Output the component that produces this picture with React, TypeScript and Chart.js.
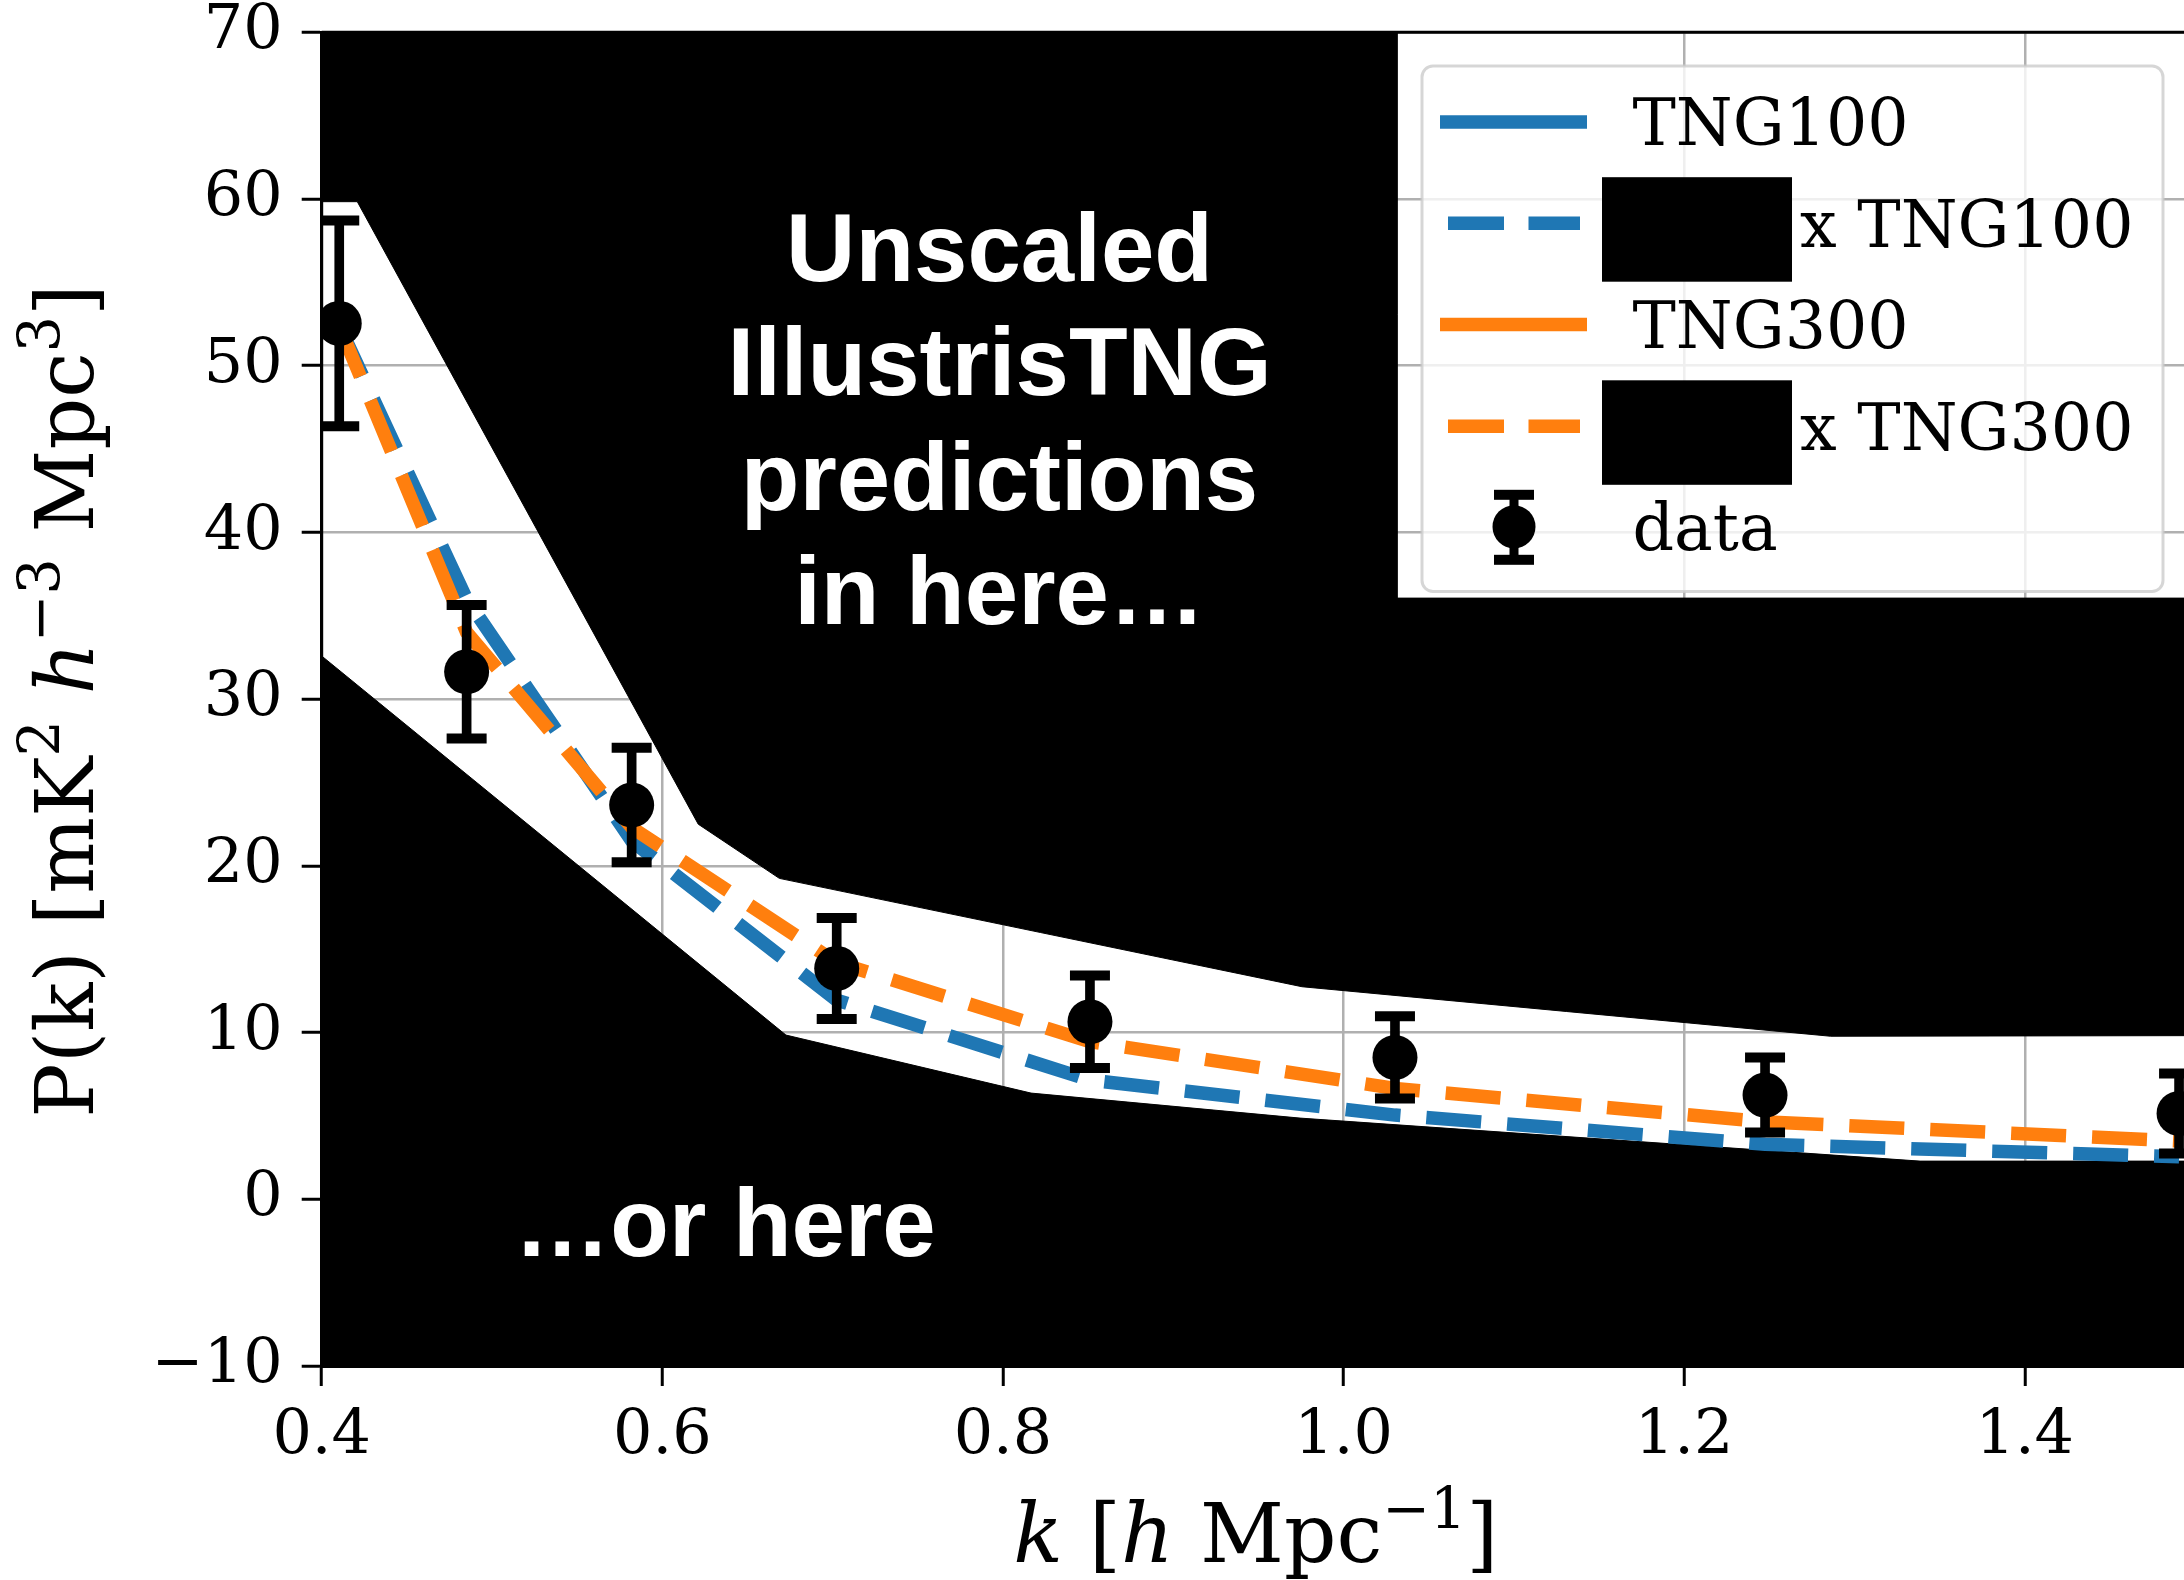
import React, { useEffect, useRef } from 'react';
import { Chart, registerables } from 'chart.js';

Chart.register(...registerables);

// ---------------- data ----------------
const kData = [0.4103, 0.4851, 0.582, 0.7024, 0.8511, 1.0302, 1.2475, 1.4906];
const pData = [52.54, 31.64, 23.65, 13.85, 10.65, 8.51, 6.25, 5.15];
const pErr = [6.17, 4.0, 3.43, 3.03, 2.77, 2.47, 2.25, 2.4];

const kModel = [0.4103, 0.4851, 0.582, 0.7024, 0.8511, 1.0302, 1.2475, 1.4906];
const scaledTNG100 = [52.4, 36.0, 21.5, 11.95, 7.15, 5.05, 3.3, 2.55];
const scaledTNG300 = [52.4, 34.0, 22.3, 14.2, 9.45, 6.65, 4.65, 3.5];

// black masks (polygons in data coordinates)
const upperMaskK = [0.4, 1.0314, 1.0314, 1.52, 1.52, 1.286, 0.9756, 0.6687, 0.6211, 0.4209, 0.4];
const upperMaskP = [72, 72, 36.06, 36.06, 9.82, 9.78, 12.75, 19.25, 22.5, 59.84, 59.84];
const lowerMaskK = [0.4, 0.6726, 0.8165, 0.9745, 1.3385, 1.52];
const lowerMaskP = [32.59, 9.85, 6.37, 4.87, 2.29, 2.29];

const xTicks = [0.4, 0.6, 0.8, 1.0, 1.2, 1.4];
const yTicks = [-10, 0, 10, 20, 30, 40, 50, 60, 70];
const xRange = [0.4, 1.4935];
const yRange = [-10, 70];

const legendLabels = ['TNG100', 'x TNG100', 'TNG300', 'x TNG300', 'data'];
const topNote = ['Unscaled', 'IllustrisTNG', 'predictions', 'in here…'];
const topNoteAt = [0.798, 55.1];
const bottomNote = '…or here';
const bottomNoteAt = [0.6368, -3.41];

// ---------------- styles ----------------
const BLUE = '#1f77b4';
const ORANGE = '#ff7f0e';
const SERIF = "'DejaVu Serif', serif";
const SANS_BOLD = "bold 96px 'Liberation Sans', Arial, sans-serif";
const LINE_W = 13.5;
const DASH = [55, 26];

const pts = (ks: number[], ps: number[]) => ks.map((k, i) => ({ x: k, y: ps[i] }));

type Part = { t: string; it?: boolean; sup?: boolean };

function drawRich(ctx: CanvasRenderingContext2D, parts: Part[], cx: number, by: number, size: number) {
  const fontFor = (p: Part) =>
    `${p.it ? 'italic ' : ''}${p.sup ? Math.round(size * 0.7) : size}px ${SERIF}`;
  let total = 0;
  const widths = parts.map((p) => {
    ctx.font = fontFor(p);
    const w = ctx.measureText(p.t).width;
    total += w;
    return w;
  });
  let x = cx - total / 2;
  ctx.textAlign = 'left';
  ctx.textBaseline = 'alphabetic';
  parts.forEach((p, i) => {
    ctx.font = fontFor(p);
    ctx.fillText(p.t, x, p.sup ? by - size * 0.42 : by);
    x += widths[i];
  });
}

const overlayPlugin = {
  id: 'overlay',
  afterDatasetsDraw(chart: any) {
    const { ctx, chartArea: a, scales } = chart;
    const x = scales.x;
    const y = scales.y;
    ctx.save();
    // spines
    ctx.strokeStyle = '#000';
    ctx.lineWidth = 3;
    ctx.beginPath();
    ctx.moveTo(a.left, a.top);
    ctx.lineTo(a.right, a.top);
    ctx.moveTo(a.left, a.top);
    ctx.lineTo(a.left, a.bottom);
    ctx.moveTo(a.left, a.bottom);
    ctx.lineTo(a.right, a.bottom);
    ctx.stroke();

    // annotations
    ctx.fillStyle = '#fff';
    ctx.font = SANS_BOLD;
    ctx.textAlign = 'center';
    ctx.textBaseline = 'alphabetic';
    const cx = x.getPixelForValue(topNoteAt[0]);
    const y0 = y.getPixelForValue(topNoteAt[1]);
    topNote.forEach((line, i) => ctx.fillText(line, cx, y0 + i * 114.5));
    ctx.fillText(bottomNote, x.getPixelForValue(bottomNoteAt[0]), y.getPixelForValue(bottomNoteAt[1]));
    ctx.restore();
  },
  afterDraw(chart: any) {
    const { ctx, chartArea: a, scales } = chart;
    const x = scales.x;
    ctx.save();
    ctx.fillStyle = '#000';
    // axis titles
    drawRich(
      ctx,
      [{ t: 'k', it: true }, { t: ' [' }, { t: 'h', it: true }, { t: ' Mpc' }, { t: '−1', sup: true }, { t: ']' }],
      x.getPixelForValue(0.9485),
      1562,
      82
    );
    ctx.save();
    ctx.translate(93, (a.top + a.bottom) / 2 + 2);
    ctx.rotate(-Math.PI / 2);
    drawRich(
      ctx,
      [
        { t: 'P(k) [mK' },
        { t: '2', sup: true },
        { t: ' ' },
        { t: 'h', it: true },
        { t: '−3', sup: true },
        { t: ' Mpc' },
        { t: '3', sup: true },
        { t: ']' },
      ],
      0,
      0,
      81
    );
    ctx.restore();

    // legend
    const bx = 1422, by = 66, bw = 741, bh = 525.5, r = 11;
    ctx.beginPath();
    ctx.moveTo(bx + r, by);
    ctx.arcTo(bx + bw, by, bx + bw, by + bh, r);
    ctx.arcTo(bx + bw, by + bh, bx, by + bh, r);
    ctx.arcTo(bx, by + bh, bx, by, r);
    ctx.arcTo(bx, by, bx + bw, by, r);
    ctx.closePath();
    ctx.fillStyle = 'rgba(255,255,255,0.8)';
    ctx.fill();
    ctx.strokeStyle = 'rgba(204,204,204,0.8)';
    ctx.lineWidth = 3;
    ctx.stroke();

    const rowsY = [121.9, 223.2, 324.6, 426.3, 526.8];
    const colors = [BLUE, BLUE, ORANGE, ORANGE, '#000'];
    ctx.font = `65px ${SERIF}`;
    ctx.textAlign = 'left';
    ctx.textBaseline = 'alphabetic';
    legendLabels.forEach((label, i) => {
      const ry = rowsY[i];
      if (i === 4) {
        // errorbar marker handle
        ctx.fillStyle = '#000';
        ctx.fillRect(1509.5, ry - 32, 9, 65);
        ctx.fillRect(1494, ry - 37, 40, 10);
        ctx.fillRect(1494, ry + 28, 40, 10);
        ctx.beginPath();
        ctx.arc(1514, ry, 21.5, 0, Math.PI * 2);
        ctx.fill();
      } else {
        ctx.strokeStyle = colors[i];
        ctx.lineWidth = LINE_W;
        ctx.lineCap = 'butt';
        ctx.beginPath();
        if (i % 2 === 0) {
          ctx.moveTo(1440, ry);
          ctx.lineTo(1587, ry);
        } else {
          ctx.moveTo(1448, ry);
          ctx.lineTo(1504, ry);
          ctx.moveTo(1528.5, ry);
          ctx.lineTo(1580, ry);
        }
        ctx.stroke();
      }
      ctx.fillStyle = '#000';
      if (i === 1 || i === 3) {
        ctx.fillRect(1602, ry - 46, 190, 104.5);
        ctx.fillText(label, 1800, ry + 23.3);
      } else {
        ctx.fillText(label, 1632.5, ry + 23.3);
      }
    });
    ctx.restore();
  },
};

export default function App() {
  const ref = useRef<HTMLCanvasElement>(null);

  useEffect(() => {
    const errBars = kData.map((k, i) => ({ x: k, y: [pData[i] - pErr[i], pData[i] + pErr[i]] }));
    const caps: { x: number; y: number }[] = [];
    kData.forEach((k, i) => {
      caps.push({ x: k, y: pData[i] - pErr[i] });
      caps.push({ x: k, y: pData[i] + pErr[i] });
    });

    const gridCfg = {
      color: '#b0b0b0',
      lineWidth: 2.5,
      drawTicks: true,
      tickLength: 20,
      tickColor: '#000',
      tickWidth: 3,
      offset: false,
    };
    const tickFont = { family: SERIF, size: 62 };

    const chart = new Chart(ref.current as HTMLCanvasElement, {
      type: 'line',
      data: {
        datasets: [
          {
            label: 'upper mask',
            data: pts(upperMaskK, upperMaskP),
            fill: 'shape',
            backgroundColor: '#000',
            borderColor: '#000',
            borderWidth: 1,
            pointRadius: 0,
            tension: 0,
            order: 20,
          },
          {
            label: 'lower mask',
            data: pts(lowerMaskK, lowerMaskP),
            fill: 'start',
            backgroundColor: '#000',
            borderColor: '#000',
            borderWidth: 1,
            pointRadius: 0,
            tension: 0,
            order: 20,
          },
          {
            label: legendLabels[0],
            data: [],
            borderColor: BLUE,
            borderWidth: LINE_W,
            pointRadius: 0,
            order: 21,
          },
          {
            label: legendLabels[2],
            data: [],
            borderColor: ORANGE,
            borderWidth: LINE_W,
            pointRadius: 0,
            order: 21,
          },
          {
            label: legendLabels[1],
            data: pts(kModel, scaledTNG100),
            borderColor: BLUE,
            borderWidth: LINE_W,
            borderDash: DASH,
            borderCapStyle: 'butt',
            pointRadius: 0,
            tension: 0,
            fill: false,
            order: 6,
          },
          {
            label: legendLabels[3],
            data: pts(kModel, scaledTNG300),
            borderColor: ORANGE,
            borderWidth: LINE_W,
            borderDash: DASH,
            borderCapStyle: 'butt',
            pointRadius: 0,
            tension: 0,
            fill: false,
            order: 5,
          },
          {
            type: 'bar',
            label: 'errors',
            data: errBars as any,
            backgroundColor: '#000',
            borderWidth: 0,
            barThickness: 9,
            order: 3,
          } as any,
          {
            label: 'caps',
            data: caps,
            showLine: false,
            pointStyle: 'line',
            pointRadius: 20,
            pointBorderWidth: 10,
            pointBorderColor: '#000',
            pointBackgroundColor: '#000',
            order: 2,
          } as any,
          {
            label: legendLabels[4],
            data: pts(kData, pData),
            showLine: false,
            pointStyle: 'circle',
            pointRadius: 22.5,
            pointBorderWidth: 0,
            pointBackgroundColor: '#000',
            pointBorderColor: '#000',
            order: 1,
          } as any,
        ],
      },
      options: {
        responsive: false,
        maintainAspectRatio: false,
        animation: false,
        events: [],
        layout: { autoPadding: false, padding: { top: 32.3, left: 0, right: 0, bottom: 0 } },
        plugins: { legend: { display: false }, tooltip: { enabled: false } },
        scales: {
          x: {
            type: 'linear',
            min: xRange[0],
            max: xRange[1],
            offset: false,
            grid: gridCfg,
            border: { display: true, color: '#000', width: 3 },
            ticks: {
              font: tickFont,
              color: '#000',
              padding: 14,
              maxRotation: 0,
              autoSkip: false,
              callback: (v: any) => Number(v).toFixed(1),
            },
            afterBuildTicks: (s: any) => {
              s.ticks = xTicks.map((v) => ({ value: v }));
            },
            afterFit: (s: any) => {
              s.height = 214;
              s.paddingLeft = 0;
              s.paddingRight = 0;
            },
          },
          y: {
            type: 'linear',
            min: yRange[0],
            max: yRange[1],
            grid: gridCfg,
            border: { display: true, color: '#000', width: 3 },
            ticks: {
              font: tickFont,
              color: '#000',
              padding: 19,
              callback: (v: any) => String(v).replace('-', '−'),
            },
            afterBuildTicks: (s: any) => {
              s.ticks = yTicks.map((v) => ({ value: v }));
            },
            afterFit: (s: any) => {
              s.width = 321.7;
              s.paddingTop = 0;
              s.paddingBottom = 0;
            },
          },
        },
      } as any,
      plugins: [overlayPlugin],
    });
    return () => chart.destroy();
  }, []);

  return (
    <div style={{ position: 'absolute', left: 0, top: 0, width: 2184, height: 1580, background: '#fff' }}>
      <canvas ref={ref} width={2184} height={1580} style={{ display: 'block', width: 2184, height: 1580 }} />
    </div>
  );
}
